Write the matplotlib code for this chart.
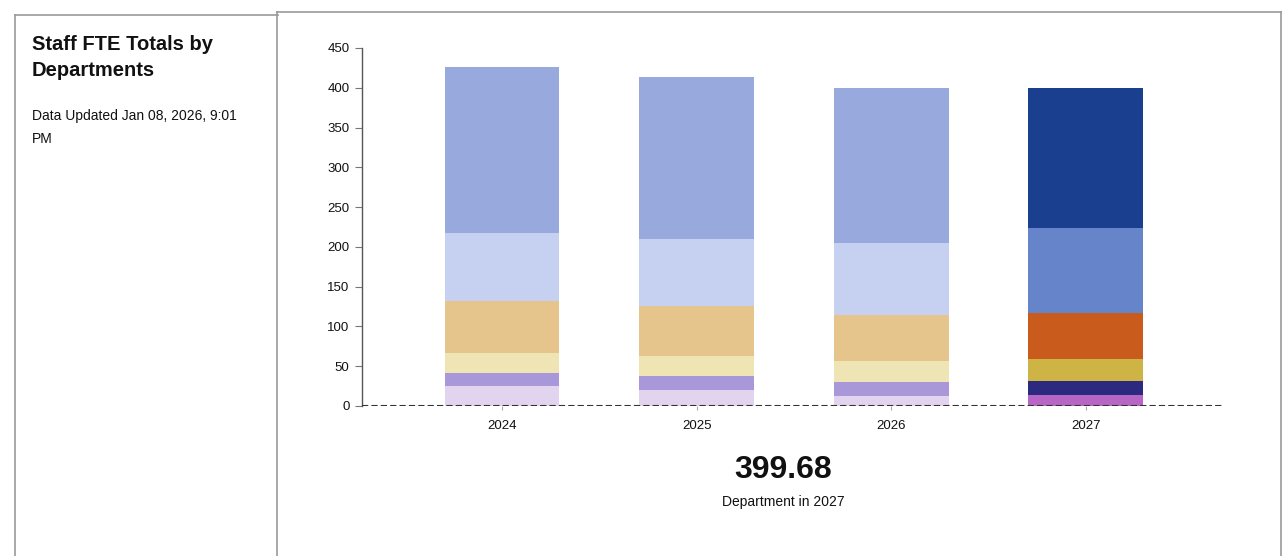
import numpy as np
import matplotlib
matplotlib.use("Agg")
import matplotlib.pyplot as plt
from matplotlib.lines import Line2D

plt.rcParams['font.family'] = ['Liberation Sans', 'DejaVu Sans']

# FTE per department, stacked bottom -> top
years = ['2024', '2025', '2026', '2027']
dept_a = [25, 20, 12.6, 13.5]
dept_b = [17, 18, 18, 18]
dept_c = [25, 25, 26.4, 27]
dept_d = [65, 63, 57.5, 58]
dept_e = [85, 84, 91, 107.5]
dept_f = [209, 203, 194, 175.68]
segments = [dept_a, dept_b, dept_c, dept_d, dept_e, dept_f]

# muted palette for past years, strong palette for the selected year
muted = ['#e2d3ee', '#a897d9', '#efe5b4', '#e6c58c', '#c6d0f1', '#98aadd']
strong = ['#b866c6', '#2b2a80', '#cdb445', '#c95b1c', '#6584c9', '#1b3f8f']
selected = 3

fig = plt.figure(figsize=(12.86, 5.56), dpi=100)

# panel borders
border = '#9a9a9a'
W, H = 1286, 556
def fline(x0, y0, x1, y1):
    fig.add_artist(Line2D([x0 / W, x1 / W], [1 - y0 / H, 1 - y1 / H],
                          color=border, lw=1.2))
fline(15, 15, 278, 15)
fline(15, 15, 15, 556)
fline(277, 12, 277, 556)
fline(277, 12, 1281, 12)
fline(1281, 12, 1281, 556)

fig.text(32 / W, 1 - 45 / H, 'Staff FTE Totals by', fontsize=14.5,
         fontweight='bold', va='center', ha='left', color='#111111')
fig.text(32 / W, 1 - 70 / H, 'Departments', fontsize=14.5,
         fontweight='bold', va='center', ha='left', color='#111111')
fig.text(32 / W, 1 - 116 / H, 'Data Updated Jan 08, 2026, 9:01', fontsize=10,
         va='center', ha='left', color='#111111')
fig.text(32 / W, 1 - 139 / H, 'PM', fontsize=10,
         va='center', ha='left', color='#111111')

ax = fig.add_axes([362 / W, 1 - 406 / H, 860 / W, 358 / H])
x = np.arange(len(years))
bottom = np.zeros(len(years))
for k, seg in enumerate(segments):
    vals = np.array(seg, dtype=float)
    colors = [strong[k] if i == selected else muted[k] for i in range(len(years))]
    ax.bar(x, vals, bottom=bottom, width=0.59, color=colors, linewidth=0)
    bottom += vals

ax.set_xlim(-0.72, 3.70)
ax.set_ylim(0, 450)
ax.set_yticks(np.arange(0, 451, 50))
ax.set_xticks(x)
ax.set_xticklabels(years)
for s in ['top', 'right', 'bottom']:
    ax.spines[s].set_visible(False)
ax.spines['left'].set_color('#555555')
ax.spines['left'].set_linewidth(1.0)
ax.axhline(0, color='#333333', lw=1.5, ls=(0, (3, 1.5)), zorder=5)
ax.tick_params(axis='y', length=5, color='#777777', labelsize=9.5, pad=4, labelcolor='#111111')
ax.tick_params(axis='x', length=3, color='#aaaaaa', labelsize=9.5, pad=7, labelcolor='#111111')

total = bottom[selected]
fig.text(783 / W, 1 - 470 / H, f'{total:.2f}', fontsize=23, fontweight='bold',
         ha='center', va='center', color='#111111')
fig.text(783 / W, 1 - 502 / H, f'Department in {years[selected]}', fontsize=10,
         ha='center', va='center', color='#111111')

fig.savefig('out.png', dpi=100, facecolor='white')
